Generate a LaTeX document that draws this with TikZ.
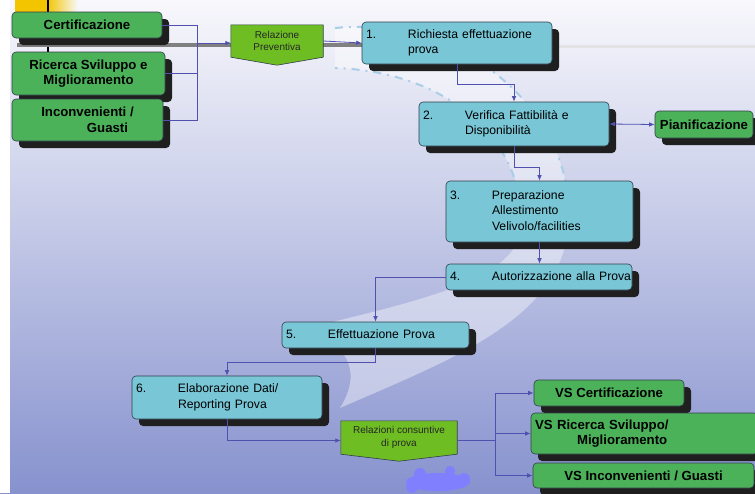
\documentclass[tikz,border=0pt]{standalone}
\usepackage{fontspec}
\setmainfont{Liberation Sans}
\usetikzlibrary{arrows.meta,shadows}
\definecolor{stepblue}{RGB}{120,198,214}
\definecolor{boxgreen}{RGB}{76,178,90}
\definecolor{relgreen}{RGB}{110,190,35}
\definecolor{edgegray}{RGB}{50,62,75}
\definecolor{linkblue}{RGB}{80,80,175}
\definecolor{bgtop}{RGB}{248,248,252}
\definecolor{bgmid}{RGB}{208,211,236}
\definecolor{bgbot}{RGB}{135,146,206}
\definecolor{splash}{RGB}{128,128,255}
\definecolor{swoosh}{RGB}{170,205,232}
\definecolor{corner}{RGB}{242,197,0}
\pgfdeclarelayer{back}
\pgfsetlayers{back,main}
\newcommand{\stepcell}[2]{\begin{tabular}{@{}p{42pt}@{}l@{}}#1&#2\end{tabular}}
\tikzset{boxshadow/.style={drop shadow={shadow xshift=7pt,shadow yshift=-7pt,fill=black!88,opacity=1}},
  stepbox/.style={draw=edgegray,line width=0.6pt,fill=stepblue,rounded corners=4pt,boxshadow,
    font=\fontsize{12.2}{15.5}\selectfont,align=left,inner xsep=4pt,inner ysep=0pt},
  areabox/.style={draw=edgegray,line width=0.6pt,fill=boxgreen,rounded corners=4pt,boxshadow,
    font=\bfseries\fontsize{13.2}{15.5}\selectfont,align=center,inner sep=2pt},
  relbox/.style={font=\fontsize{10}{12.5}\selectfont,align=center,inner sep=0pt,text=black!85},
  relshape/.style={draw=edgegray,line width=0.6pt,fill=relgreen,line join=round},
  link/.style={draw=linkblue,line width=0.8pt},
  linkarrow/.style={link,-{Latex[length=5.5pt,width=4.5pt]}},
  linkboth/.style={link,{Latex[length=5.5pt,width=4.5pt]}-{Latex[length=5.5pt,width=4.5pt]}}}

\begin{document}
\begin{tikzpicture}[x=1pt,y=-1pt]
  \useasboundingbox (0,0) rectangle (755,493);
  \begin{pgfonlayer}{back}
    \shade[top color=bgtop,middle color=bgmid,bottom color=bgbot] (0,0) rectangle (755,493);
    \fill[white] (0,0) rectangle (10,493);
    \fill[corner] (15,0) rectangle (47,12);
    \shade[left color=corner,right color=bgtop] (47,0) rectangle (78,12);
    % light swoosh behind the steps
    \fill[white,opacity=0.4] (335,28) .. controls (470,15) and (580,120) .. (568,230)
      .. controls (558,320) and (450,360) .. (340,408) .. controls (370,360) and (330,335) .. (300,330)
      .. controls (420,300) and (525,280) .. (522,220) .. controls (520,140) and (450,72) .. (335,68) -- cycle;
    \draw[swoosh,line width=2pt,dash pattern=on 8pt off 6pt on 2pt off 6pt]
      (335,28) .. controls (470,15) and (580,120) .. (568,230);
    \draw[swoosh,line width=2pt,dash pattern=on 8pt off 6pt on 2pt off 6pt]
      (522,220) .. controls (520,140) and (450,72) .. (335,68);
    \draw[black,line width=1.5pt] (48,0) -- (48,100);
    \draw[gray,line width=4pt] (17,45) -- (362,45);
    \draw[gray!22,line width=3pt] (552,46) -- (755,46);
    \fill[splash] (438,482) ellipse (32 and 9);
    \fill[splash] (420,474) circle (6);
    \fill[splash] (450,471) circle (5);
    \fill[splash] (412,487) circle (6);
    \fill[splash] (464,479) circle (6);
  \end{pgfonlayer}

  \node[areabox,minimum width=150pt,minimum height=26pt] (cert) at (87,25) {Certificazione};
  \node[areabox,minimum width=153pt,minimum height=43pt] (ricerca) at (88.5,73.5) {Ricerca Sviluppo e\\Miglioramento};
  \node[areabox,minimum width=151pt,minimum height=42pt] (inconv) at (87.5,120) {Inconvenienti /\\\hspace*{40pt}Guasti};
  \node[relbox,minimum width=92pt,minimum height=32pt] (relprev) at (277,41) {Relazione\\Preventiva};

  \node[stepbox,text width=182pt,minimum height=42pt] (s1) at (457,43) {\stepcell{1.}{Richiesta effettuazione\\&prova}};
  \node[stepbox,text width=182pt,minimum height=44pt] (s2) at (514,124) {\stepcell{2.}{Verifica Fattibilità e\\&Disponibilità}};
  \node[areabox,minimum width=98pt,minimum height=27pt] (pian) at (704,124.5) {Pianificazione};
  \node[stepbox,text width=179pt,minimum height=61pt] (s3) at (539.5,211.5) {\stepcell{3.}{Preparazione\\&Allestimento\\&Velivolo/facilities}};
  \node[stepbox,text width=178pt,minimum height=26pt] (s4) at (539,277) {\stepcell{4.}{Autorizzazione alla Prova}};
  \node[stepbox,text width=179pt,minimum height=26pt] (s5) at (375.5,335) {\stepcell{5.}{Effettuazione Prova}};
  \node[stepbox,text width=182pt,minimum height=43pt] (s6) at (227,397.5) {\stepcell{6.}{Elaborazione Dati/\\&Reporting Prova}};

  \node[relbox,minimum width=116pt,minimum height=33pt] (relcons) at (399,437.5) {Relazioni consuntive\\di prova};
  \node[areabox,minimum width=150pt,minimum height=26pt] (vscert) at (609,393) {VS Certificazione};
  \node[areabox,align=left,inner xsep=4pt,text width=219pt,minimum height=41pt] (vsric) at (644.5,433.5) {VS Ricerca Sviluppo/\\\hspace*{42pt}Miglioramento};
  \node[areabox,minimum width=221pt,minimum height=25pt] (vsinc) at (643.5,475.5) {VS Inconvenienti / Guasti};

  \begin{pgfonlayer}{back}
    \draw[relshape] (relprev.north west) -- (relprev.north east) -- (relprev.south east)
      -- ([yshift=-8pt]relprev.south) -- (relprev.south west) -- cycle;
    \draw[relshape] (relcons.north west) -- (relcons.north east) -- (relcons.south east)
      -- ([yshift=-7pt]relcons.south) -- (relcons.south west) -- cycle;
  \end{pgfonlayer}

  \coordinate (jl) at (197,43);
  \coordinate (jr) at (495,440.5);
  \draw[link] (cert.east) -| (jl);
  \draw[link] (ricerca.east) -| (jl);
  \draw[link] (inconv.east) -| (jl);
  \draw[linkarrow] (jl) -- (jl -| relprev.west);
  \draw[linkarrow] (relprev.east) -- (s1.west);
  \draw[linkarrow] (s1.south) -- ++(0,20) -| (s2.north);
  \draw[linkboth] (s2.east) -- (pian.west);
  \draw[linkarrow] (s2.south) -- ++(0,21) -| (s3.north);
  \draw[linkarrow] (s3.south) -- (s3.south |- s4.north);
  \draw[linkarrow] (s4.west) -| (s5.north);
  \draw[linkarrow] (s5.south) -- ++(0,14) -| (s6.north);
  \draw[linkarrow] (s6.south) |- ([yshift=-3pt]relcons.west);
  \draw[link] ([yshift=-3pt]relcons.east) -- (jr);
  \draw[linkarrow] (jr) |- (vscert.west);
  \draw[linkarrow] (jr) |- (vsric.west);
  \draw[linkarrow] (jr) |- (vsinc.west);
\end{tikzpicture}
\end{document}
